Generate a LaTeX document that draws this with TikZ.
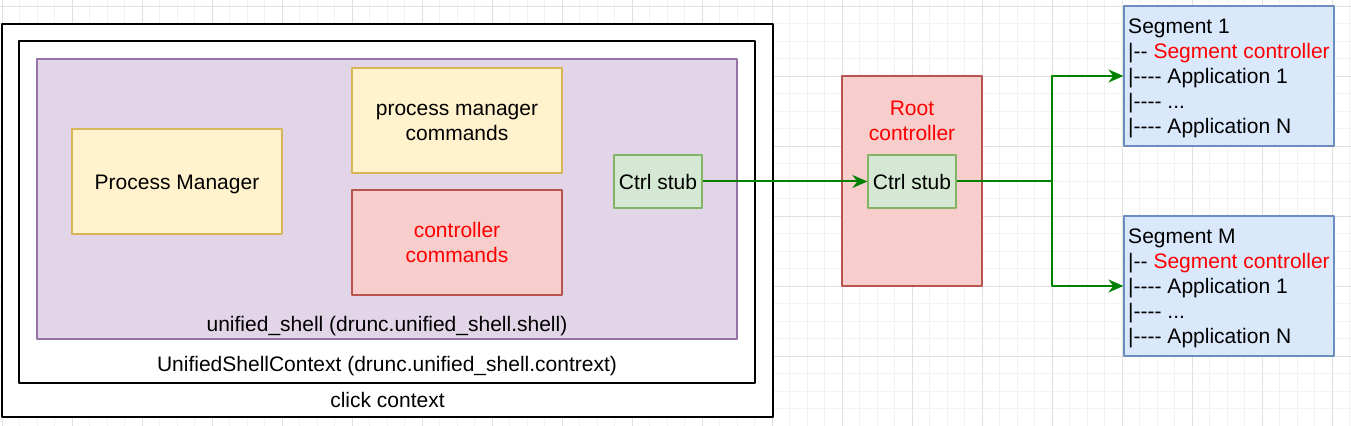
\documentclass[tikz,border=0pt]{standalone}
\usepackage{fontspec}
\setmainfont{Liberation Sans}[Ligatures=TeXOff]
\usetikzlibrary{arrows.meta}
\definecolor{gridminorcol}{HTML}{F2F2F2}
\definecolor{gridmajorcol}{HTML}{E0E0E0}
\definecolor{shellfill}{HTML}{E1D5E7}
\definecolor{shellline}{HTML}{9673A6}
\definecolor{yelfill}{HTML}{FFF2CC}
\definecolor{yelline}{HTML}{D6B656}
\definecolor{redfill}{HTML}{F8CECC}
\definecolor{redline}{HTML}{B85450}
\definecolor{stubfill}{HTML}{D5E8D4}
\definecolor{stubline}{HTML}{82B366}
\definecolor{segfill}{HTML}{DAE8FC}
\definecolor{segline}{HTML}{6C8EBF}
\definecolor{flowcol}{rgb}{0.0,0.5,0.0}
\definecolor{alertcol}{rgb}{1.0,0.0,0.0}
\newcommand{\lstrut}{\rule[-4.5bp]{0pt}{25bp}}
\begin{document}
\begin{tikzpicture}[>={Stealth[length=15bp,width=13bp,inset=5bp]},line join=bevel,
  every node/.style={font=\fontsize{21bp}{25bp}\selectfont},
  gridminor/.style={draw=gridminorcol,line width=0.8bp,step=17.5bp},
  gridmajor/.style={draw=gridmajorcol,line width=0.8bp,step=70bp},
  ctxbox/.style={draw=black,fill=white,line width=2bp,inner sep=0pt},
  shellbox/.style={draw=shellline,fill=shellfill,line width=1.3bp,inner sep=0pt},
  yelbox/.style={draw=yelline,fill=yelfill,line width=1.3bp,align=center,inner sep=2bp},
  redbox/.style={draw=redline,fill=redfill,line width=1.3bp,align=center,inner sep=2bp},
  stubbox/.style={draw=stubline,fill=stubfill,line width=1.3bp,inner sep=2bp,
    minimum width=88bp,minimum height=53bp},
  segbox/.style={draw=segline,fill=segfill,line width=1.3bp,align=left,inner sep=0pt,
    minimum width=210bp,minimum height=140bp},
  caption/.style={inner sep=0pt},
  flow/.style={->,draw=flowcol,line width=2bp},
  ]
  \useasboundingbox (0bp,0bp) rectangle (1351bp,426bp);
  \fill [white] (0bp,0bp) rectangle (1351bp,426bp);
  % Grid
\begin{scope}[shift={(2bp,0bp)}]
  \draw [gridminor] (-2bp,0bp) grid (1349bp,426bp);
  \draw [gridmajor] (-2bp,0bp) grid (1349bp,426bp);
\end{scope}
  % Node: click
  \node [ctxbox,minimum width=771bp,minimum height=393bp] (click) at (387.5bp,205.5bp) {};
  \node [caption] (clicktxt) at ([yshift=18bp]click.south) {click context};
  % Node: ctx
  \node [ctxbox,minimum width=736bp,minimum height=342bp] (ctx) at (387bp,214bp) {};
  \node [caption] (ctxtxt) at ([yshift=18bp]ctx.south) {UnifiedShellContext (drunc.unified\_shell.contrext)};
  % Node: shell
  \node [shellbox,minimum width=700bp,minimum height=280bp] (shell) at (387bp,227bp) {};
  \node [caption] (shelltxt) at ([yshift=14bp]shell.south) {unified\_shell (drunc.unified\_shell.shell)};
  % Node: pm
  \node [yelbox,minimum width=210bp,minimum height=105bp] (pm) at (177bp,244.5bp) {\lstrut Process Manager};
  % Node: pmcmd
  \node [yelbox,minimum width=210bp,minimum height=105bp] (pmcmd) at (457bp,305.5bp) {\lstrut process manager\\commands\lstrut};
  % Node: ctrlcmd
  \node [redbox,minimum width=210bp,minimum height=105bp,text=alertcol] (ctrlcmd) at (457bp,183.5bp) {\lstrut controller\\commands\lstrut};
  % Node: stubl
  \node [stubbox] (stubl) at (658bp,244.5bp) {\lstrut Ctrl stub};
  % Node: root
  \node [redbox,minimum width=140bp,minimum height=210bp] (root) at (912bp,245bp) {};
  \node [caption,align=center,text=alertcol] (roottxt) at ([yshift=-45bp]root.north) {\lstrut Root\\controller\lstrut};
  % Node: stubr
  \node [stubbox] (stubr) at (912bp,244.5bp) {\lstrut Ctrl stub};
  % Node: seg1
  \node [segbox] (seg1) at (1229bp,350bp) {\lstrut Segment 1\\
    |-- \textcolor{alertcol}{Segment controller}\\
    |---- Application 1\\
    |---- ...\\
    |---- Application N\lstrut};
  % Node: segm
  \node [segbox] (segm) at (1229bp,140bp) {\lstrut Segment M\\
    |-- \textcolor{alertcol}{Segment controller}\\
    |---- Application 1\\
    |---- ...\\
    |---- Application N\lstrut};
  % Edge: stubl -> stubr
  \draw [flow] (stubl.east) -- (stubr.west);
  % Edge: stubr -> seg1, segm
  \coordinate (fork) at (1052bp,244.5bp);
  \draw [flow] (stubr.east) -- (fork) |- (seg1.west);
  \draw [flow] (fork) |- (segm.west);
%
\end{tikzpicture}
\end{document}
